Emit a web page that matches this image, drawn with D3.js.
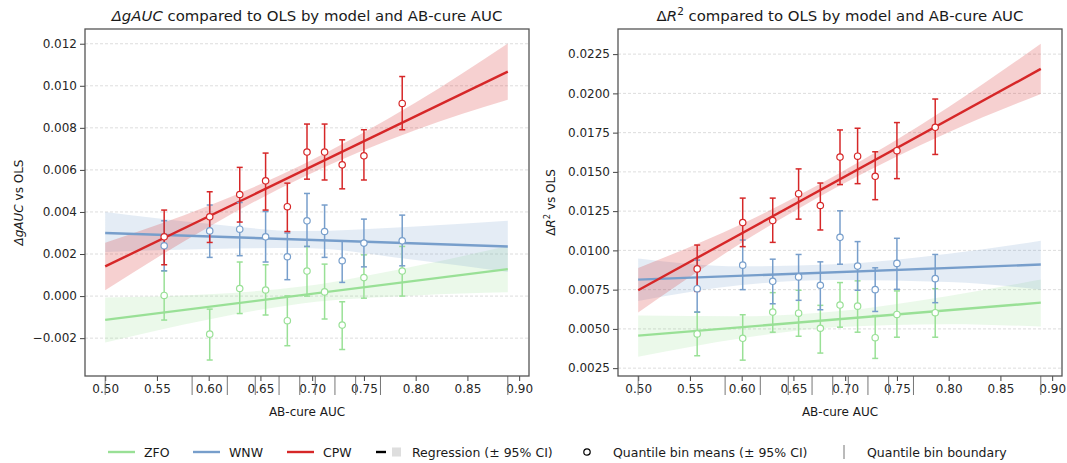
<!DOCTYPE html>
<html>
<head>
<meta charset="utf-8">
<script src="https://cdn.jsdelivr.net/npm/d3@7"></script>
<style>
  body { margin: 0; background: #fff; }
  svg { font-family: "DejaVu Sans", sans-serif; }
</style>
</head>
<body>
<svg id="chart" width="1067" height="463"></svg>
<script>
// models and quantile bins
const models = ["ZFO", "WNW", "CPW"];
const binX = [0.557, 0.601, 0.630, 0.655, 0.676, 0.695, 0.712, 0.729, 0.750, 0.787];
const binEdges = [0.500, 0.584, 0.618, 0.645, 0.668, 0.688, 0.703, 0.722, 0.742, 0.766, 0.889];
const xTicks = [0.50, 0.55, 0.60, 0.65, 0.70, 0.75, 0.80, 0.85, 0.90];
const gaucTicks = [-0.002, 0.000, 0.002, 0.004, 0.006, 0.008, 0.010, 0.012];
const r2Ticks = [0.0025, 0.0050, 0.0075, 0.0100, 0.0125, 0.0150, 0.0175, 0.0200, 0.0225];

// delta gAUC bin means and 95% CI
const gaucZFO   = [0.00003, -0.00181, 0.00036, 0.00029, -0.00117, 0.00119, 0.00020, -0.00138, 0.00088, 0.00119];
const gaucZFOLo = [-0.00114, -0.00304, -0.00083, -0.00090, -0.00236, 0.00000, -0.00109, -0.00254, -0.00010, 0.00000];
const gaucZFOHi = [0.00120, -0.00062, 0.00162, 0.00149, 0.00001, 0.00236, 0.00152, -0.00027, 0.00196, 0.00236];
const gaucWNW   = [0.00239, 0.00310, 0.00318, 0.00282, 0.00187, 0.00358, 0.00307, 0.00168, 0.00252, 0.00263];
const gaucWNWLo = [0.00120, 0.00184, 0.00192, 0.00162, 0.00078, 0.00236, 0.00184, 0.00065, 0.00139, 0.00144];
const gaucWNWHi = [0.00358, 0.00433, 0.00445, 0.00402, 0.00300, 0.00488, 0.00433, 0.00263, 0.00366, 0.00385];
const gaucCPW   = [0.00282, 0.00377, 0.00483, 0.00548, 0.00425, 0.00685, 0.00685, 0.00624, 0.00667, 0.00916];
const gaucCPWLo = [0.00149, 0.00255, 0.00352, 0.00409, 0.00307, 0.00556, 0.00552, 0.00510, 0.00552, 0.00791];
const gaucCPWHi = [0.00409, 0.00496, 0.00612, 0.00680, 0.00537, 0.00818, 0.00818, 0.00743, 0.00791, 0.01044];

// delta R2 bin means and 95% CI
const r2ZFO   = [0.00468, 0.00440, 0.00607, 0.00600, 0.00504, 0.00652, 0.00645, 0.00444, 0.00592, 0.00603];
const r2ZFOLo = [0.00329, 0.00301, 0.00479, 0.00453, 0.00346, 0.00511, 0.00479, 0.00312, 0.00447, 0.00447];
const r2ZFOHi = [0.00607, 0.00590, 0.00731, 0.00746, 0.00650, 0.00795, 0.00806, 0.00585, 0.00742, 0.00756];
const r2WNW   = [0.00756, 0.00906, 0.00803, 0.00831, 0.00778, 0.01083, 0.00900, 0.00750, 0.00917, 0.00820];
const r2WNWLo = [0.00607, 0.00750, 0.00660, 0.00682, 0.00622, 0.00912, 0.00746, 0.00611, 0.00752, 0.00667];
const r2WNWHi = [0.00938, 0.01066, 0.00944, 0.00974, 0.00927, 0.01252, 0.01056, 0.00889, 0.01077, 0.00974];
const r2CPW   = [0.00882, 0.01177, 0.01190, 0.01361, 0.01286, 0.01594, 0.01600, 0.01472, 0.01635, 0.01784];
const r2CPWLo = [0.00739, 0.01024, 0.01051, 0.01199, 0.01130, 0.01419, 0.01425, 0.01323, 0.01457, 0.01611];
const r2CPWHi = [0.01034, 0.01333, 0.01333, 0.01519, 0.01429, 0.01767, 0.01778, 0.01628, 0.01814, 0.01964];

// regression fit (ends) and CI band read at ciX
const fitX = [0.500, 0.889];
const gaucFitZFO = [-0.00113, 0.00128];
const gaucFitWNW = [0.00300, 0.00236];
const gaucFitCPW = [0.00141, 0.01067];
const r2FitZFO = [0.00457, 0.00667];
const r2FitWNW = [0.00814, 0.00910];
const r2FitCPW = [0.00746, 0.02156];

const ciX = [0.500, 0.600, 0.690, 0.800, 0.889];
const gaucBandZFOLo = [-0.00221, -0.00111, -0.00035, 0.00003, 0.00018];
const gaucBandZFOHi = [-0.00007, 0.00009, 0.00045, 0.00143, 0.00238];
const gaucBandWNWLo = [0.00210, 0.00224, 0.00229, 0.00171, 0.00114];
const gaucBandWNWHi = [0.00400, 0.00344, 0.00309, 0.00331, 0.00358];
const gaucBandCPWLo = [0.00028, 0.00329, 0.00563, 0.00790, 0.00933];
const gaucBandCPWHi = [0.00254, 0.00429, 0.00623, 0.00920, 0.01201];
const r2BandZFOLo = [0.00323, 0.00441, 0.00510, 0.00530, 0.00515];
const r2BandZFOHi = [0.00586, 0.00581, 0.00610, 0.00710, 0.00814];
const r2BandWNWLo = [0.00677, 0.00779, 0.00811, 0.00798, 0.00750];
const r2BandWNWHi = [0.00949, 0.00899, 0.00911, 0.00978, 0.01062];
const r2BandCPWLo = [0.00604, 0.01048, 0.01395, 0.01753, 0.01996];
const r2BandCPWHi = [0.00888, 0.01168, 0.01475, 0.01913, 0.02316];

const colors = {ZFO: "#99e096", WNW: "#779ecb", CPW: "#d62728"};

const svg = d3.select("#chart");
const W = 444, H = 347, plotTop = 29;

function panel(opts) {
  const g = svg.append("g").attr("transform", "translate(" + opts.left + "," + plotTop + ")");
  const x = d3.scaleLinear().domain([0.4805, 0.9095]).range([0, W]);
  const y = d3.scaleLinear().domain(opts.yDomain).range([H, 0]);

  // horizontal dashed grid
  g.append("g").selectAll("line").data(opts.yTicks).enter().append("line")
    .attr("x1", 0).attr("x2", W)
    .attr("y1", d => y(d)).attr("y2", d => y(d))
    .attr("stroke", "#d4d4d4").attr("stroke-width", 0.8).attr("stroke-dasharray", "3,2");

  const area = d3.area().curve(d3.curveMonotoneX)
    .x(d => x(d.x)).y0(d => y(d.lo)).y1(d => y(d.hi));
  const line = d3.line().x(d => x(d.x)).y(d => y(d.y));

  opts.series.forEach(function(s) {
    const band = ciX.map((v, i) => ({x: v, lo: s.bandLo[i], hi: s.bandHi[i]}));
    g.append("path").datum(band).attr("d", area)
      .attr("fill", colors[s.name]).attr("fill-opacity", s.name == "CPW" ? 0.22 : 0.2);
  });
  opts.series.forEach(function(s) {
    g.append("path").datum(fitX.map((v, i) => ({x: v, y: s.fit[i]})))
      .attr("d", line).attr("fill", "none")
      .attr("stroke", colors[s.name]).attr("stroke-width", 2.4);
  });
  opts.series.forEach(function(s) {
    const pts = binX.map((v, i) => ({x: v, m: s.mean[i], lo: s.lo[i], hi: s.hi[i]}));
    const eb = g.append("g").attr("stroke", colors[s.name]).attr("stroke-width", 1.5);
    eb.selectAll(".v").data(pts).enter().append("line")
      .attr("x1", d => x(d.x)).attr("x2", d => x(d.x))
      .attr("y1", d => y(d.lo)).attr("y2", d => y(d.hi));
    eb.selectAll(".ct").data(pts).enter().append("line")
      .attr("x1", d => x(d.x) - 3).attr("x2", d => x(d.x) + 3)
      .attr("y1", d => y(d.hi)).attr("y2", d => y(d.hi));
    eb.selectAll(".cb").data(pts).enter().append("line")
      .attr("x1", d => x(d.x) - 3).attr("x2", d => x(d.x) + 3)
      .attr("y1", d => y(d.lo)).attr("y2", d => y(d.lo));
  });
  opts.series.forEach(function(s) {
    g.append("g").selectAll("circle").data(binX.map((v, i) => ({x: v, m: s.mean[i]})))
      .enter().append("circle")
      .attr("cx", d => x(d.x)).attr("cy", d => y(d.m)).attr("r", 3.2)
      .attr("fill", "#fff").attr("stroke", colors[s.name]).attr("stroke-width", 1.2);
  });

  // axes
  const xAxis = g.append("g").attr("transform", "translate(0," + H + ")")
    .call(d3.axisBottom(x).tickValues(xTicks).tickFormat(d3.format(".2f")).tickSizeOuter(0).tickSize(5).tickPadding(3));
  const yAxis = g.append("g")
    .call(d3.axisLeft(y).tickValues(opts.yTicks).tickFormat(d3.format(opts.fmt)).tickSizeOuter(0).tickSize(5).tickPadding(3));
  [xAxis, yAxis].forEach(function(a) {
    a.select(".domain").remove();
    a.selectAll("line").attr("stroke", "#444");
    a.selectAll("text").attr("font-size", 12).attr("fill", "#262626").attr("font-family", "DejaVu Sans");
  });

  // quantile bin boundaries
  g.append("g").selectAll("line").data(binEdges).enter().append("line")
    .attr("x1", d => x(d)).attr("x2", d => x(d))
    .attr("y1", H).attr("y2", H + 19)
    .attr("stroke", "#777").attr("stroke-width", 1);

  // frame
  g.append("rect").attr("width", W).attr("height", H)
    .attr("fill", "none").attr("stroke", "#555").attr("stroke-width", 1.3);

  // titles and labels
  const t = g.append("text").attr("x", W / 2).attr("y", -8).attr("text-anchor", "middle")
    .attr("font-size", 14.9).attr("fill", "#1a1a1a");
  opts.title(t);
  g.append("text").attr("x", W / 2).attr("y", H + 40).attr("text-anchor", "middle")
    .attr("font-size", 12).attr("fill", "#1a1a1a").text("AB-cure AUC");
  const yl = g.append("text")
    .attr("transform", "translate(" + opts.yLabelX + "," + (H / 2) + ") rotate(-90)")
    .attr("text-anchor", "middle").attr("font-size", 12).attr("fill", "#1a1a1a");
  opts.ylabel(yl);
}

panel({
  left: 85, yDomain: [-0.0038, 0.0127], yTicks: gaucTicks, fmt: ".3f", yLabelX: -62,
  series: [
    {name: "ZFO", mean: gaucZFO, lo: gaucZFOLo, hi: gaucZFOHi, fit: gaucFitZFO, bandLo: gaucBandZFOLo, bandHi: gaucBandZFOHi},
    {name: "WNW", mean: gaucWNW, lo: gaucWNWLo, hi: gaucWNWHi, fit: gaucFitWNW, bandLo: gaucBandWNWLo, bandHi: gaucBandWNWHi},
    {name: "CPW", mean: gaucCPW, lo: gaucCPWLo, hi: gaucCPWHi, fit: gaucFitCPW, bandLo: gaucBandCPWLo, bandHi: gaucBandCPWHi}
  ],
  title: function(t) {
    t.append("tspan").attr("font-style", "italic").text("\u0394gAUC");
    t.append("tspan").text(" compared to OLS by model and AB-cure AUC");
  },
  ylabel: function(t) {
    t.append("tspan").attr("font-style", "italic").text("\u0394gAUC");
    t.append("tspan").text(" vs OLS");
  }
});

panel({
  left: 618, yDomain: [0.0020, 0.0241], yTicks: r2Ticks, fmt: ".4f", yLabelX: -63,
  series: [
    {name: "ZFO", mean: r2ZFO, lo: r2ZFOLo, hi: r2ZFOHi, fit: r2FitZFO, bandLo: r2BandZFOLo, bandHi: r2BandZFOHi},
    {name: "WNW", mean: r2WNW, lo: r2WNWLo, hi: r2WNWHi, fit: r2FitWNW, bandLo: r2BandWNWLo, bandHi: r2BandWNWHi},
    {name: "CPW", mean: r2CPW, lo: r2CPWLo, hi: r2CPWHi, fit: r2FitCPW, bandLo: r2BandCPWLo, bandHi: r2BandCPWHi}
  ],
  title: function(t) {
    t.append("tspan").text("\u0394");
    t.append("tspan").attr("font-style", "italic").text("R");
    t.append("tspan").attr("dy", -6).attr("font-size", 10.5).text("2");
    t.append("tspan").attr("dy", 6).text(" compared to OLS by model and AB-cure AUC");
  },
  ylabel: function(t) {
    t.append("tspan").text("\u0394");
    t.append("tspan").attr("font-style", "italic").text("R");
    t.append("tspan").attr("dy", -5).attr("font-size", 8.5).text("2");
    t.append("tspan").attr("dy", 5).text(" vs OLS");
  }
});

// legend
const leg = svg.append("g").attr("transform", "translate(0,452)");
function legLabel(x, s) {
  leg.append("text").attr("x", x).attr("y", 4.5).attr("font-size", 12.5).attr("fill", "#1a1a1a").text(s);
}
const legX = [108, 193, 287];
models.forEach(function(m, i) {
  leg.append("line").attr("x1", legX[i]).attr("x2", legX[i] + 27).attr("y1", 0).attr("y2", 0)
    .attr("stroke", colors[m]).attr("stroke-width", 2.4);
  legLabel(legX[i] + 36, m);
});
leg.append("line").attr("x1", 376).attr("x2", 386).attr("y1", 0).attr("y2", 0)
  .attr("stroke", "#000").attr("stroke-width", 2.4);
leg.append("rect").attr("x", 392).attr("y", -4.5).attr("width", 9).attr("height", 9).attr("fill", "#dedede");
legLabel(412, "Regression (\u00b1 95% CI)");
leg.append("circle").attr("cx", 587).attr("cy", 0).attr("r", 3.2)
  .attr("fill", "#fff").attr("stroke", "#000").attr("stroke-width", 1.2);
legLabel(613, "Quantile bin means (\u00b1 95% CI)");
leg.append("line").attr("x1", 844).attr("x2", 844).attr("y1", -7).attr("y2", 7)
  .attr("stroke", "#777").attr("stroke-width", 1);
legLabel(867, "Quantile bin boundary");
</script>
</body>
</html>
